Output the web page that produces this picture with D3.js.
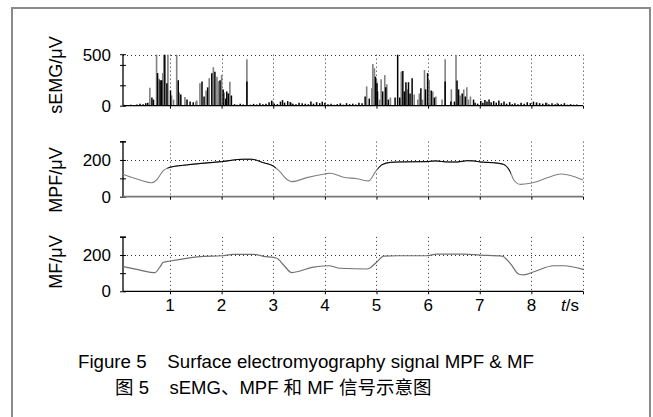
<!DOCTYPE html>
<html><head><meta charset="utf-8">
<script src="https://cdn.jsdelivr.net/npm/d3@7/dist/d3.min.js"></script>
<style>body{margin:0;background:#fff}svg{display:block}</style>
</head><body>
<svg id="c" width="653" height="417"></svg>
<script>
// ---------- data ----------
const timeTicks = [1,2,3,4,5,6,7,8];
const semgTicks = [0,500];
const freqTicks = [0,200];
// sEMG spikes [t (s), amplitude (µV)]
const semgGray = [[0.61,175],[0.74,500],[0.79,265],[0.86,320],[0.88,500],[0.96,500],[1.03,100],[1.07,60],[1.13,500],[1.18,130],[1.29,85],[1.50,40],
 [1.52,50],[1.58,220],[1.70,150],[1.76,270],[1.84,377],[1.91,285],[1.94,240],[2.00,300],[2.05,130],[2.16,235],[2.49,455],
 [3.00,40],[3.35,30],[4.30,25],
 [4.81,190],[4.91,170],[4.93,410],[4.96,367],[5.00,250],[5.06,60],[5.09,260],[5.16,300],[5.20,210],[5.27,80],[5.45,60],[5.48,335],[5.60,160],[5.73,110],[5.80,60],[5.83,120],[5.89,60],[5.93,350],[6.02,253],[6.09,140],[6.15,90],[6.27,60],[6.33,455],[6.45,160],[6.54,500],[6.62,100],[6.69,160],[6.75,180],[6.78,60],[6.82,90],
 [8.10,35],[8.30,30],[8.50,30]];
const semgBlack = [[0.12,8],[0.18,5],[0.24,10],[0.30,6],[0.36,12],[0.42,20],[0.48,15],[0.53,25],[0.57,30],
 [0.65,80],[0.68,60],[0.76,320],[0.81,250],[0.84,250],[0.90,500],[0.94,220],[1.01,150],[1.16,250],[1.21,110],[1.33,60],[1.39,40],[1.45,35],
 [1.62,237],[1.66,90],[1.73,180],[1.81,318],[1.87,333],[1.97,250],[2.03,160],[2.08,70],[2.10,140],[2.13,120],[2.19,100],
 [2.25,15],[2.30,10],[2.36,20],[2.42,12],[2.49,237],[2.56,10],[2.62,18],[2.68,12],[2.74,25],[2.80,15],[2.86,20],[2.92,35],[2.97,50],[3.02,20],[3.08,15],[3.14,40],[3.18,55],[3.22,30],[3.28,45],[3.33,35],[3.38,20],[3.44,15],[3.50,30],[3.56,25],[3.62,20],[3.68,15],[3.73,40],[3.78,20],[3.84,35],[3.90,25],[3.95,40],[4.00,30],[4.06,15],[4.12,20],[4.18,10],[4.24,15],[4.30,20],[4.36,10],[4.42,25],[4.48,15],[4.54,20],[4.60,12],[4.66,30],[4.72,25],
 [4.78,90],[4.86,70],[4.98,285],[5.01,220],[5.02,140],[5.12,140],[5.18,180],[5.23,60],[5.36,80],[5.41,500],[5.45,80],[5.51,340],[5.54,140],[5.57,230],[5.62,230],[5.65,120],[5.69,270],[5.86,170],[5.95,160],[5.99,320],[6.06,150],[6.12,80],[6.33,237],[6.44,40],[6.51,40],[6.56,247],[6.59,160],[6.66,120],[6.72,90],[6.88,60],[6.91,30],
 [6.96,20],[7.02,45],[7.06,30],[7.10,55],[7.14,40],[7.18,60],[7.22,35],[7.27,45],[7.32,30],[7.37,50],[7.42,25],[7.47,40],[7.52,20],[7.58,35],[7.63,15],[7.68,25],[7.74,15],[7.80,30],[7.86,20],[7.92,35],[7.98,25],[8.04,40],[8.10,30],[8.16,25],[8.22,20],[8.28,30],[8.34,15],[8.40,25],[8.46,15],[8.52,20],[8.58,15],[8.64,25],[8.70,10],[8.76,15],[8.82,10],[8.88,12],[8.94,8]];
// MPF curve [t, Hz]
const mpfT = [0.09,0.42,0.645,0.74,0.87,1.0,1.32,2.0,2.42,2.58,2.81,3.0,3.13,3.26,3.36,3.65,4.0,4.1,4.36,4.62,4.85,4.98,5.1,5.27,5.4,5.98,6.14,6.37,6.56,6.75,6.88,7.01,7.27,7.46,7.59,7.66,7.79,7.98,8.37,8.56,8.72,9.0];
const mpfV = [122,91,76,91,142,160,173,191,204,204,185,167,136,95,82,104,124,128,106,98,86,136,173,187,189,191,195,189,189,196,195,189,185,176,136,91,67,73,109,124,118,91];
// MF curve [t, Hz]
const mfT = [0.09,0.42,0.71,0.81,0.87,1.0,1.32,1.65,2.0,2.23,2.61,2.81,3.07,3.2,3.36,3.52,3.75,4.07,4.3,4.81,4.88,5.01,5.14,5.4,5.98,6.17,6.69,7.01,7.43,7.59,7.76,7.85,8.05,8.43,8.63,9.0];
const mfV = [136,117,103,136,160,167,182,193,196,204,204,193,182,145,103,112,132,141,127,123,130,163,194,196,196,205,205,200,194,154,94,91,108,141,141,121];
// active (contraction) intervals drawn in black
const activeSpans = [[0.95,3.05],[5.02,7.6]];

// ---------- drawing ----------
const svg = d3.select("#c");
const FONT = "'Liberation Sans', Arial, sans-serif";
svg.append("path").attr("d","M12,418V8H650V418").attr("fill","none").attr("stroke","#8a8a8a").attr("stroke-width",2);

const x = d3.scaleLinear().domain([0.09,9.0]).range([123,583]);
const gridTimes = timeTicks.concat([9.0]);

function panel(y, yTicks, gridVal){
  const g = svg.append("g");
  const y0 = y(0), yTop = y.range()[1];
  g.selectAll(".vg").data(gridTimes).join("line")
    .attr("x1",d=>Math.round(x(d))+0.5).attr("x2",d=>Math.round(x(d))+0.5)
    .attr("y1",yTop).attr("y2",y0)
    .attr("stroke","#333").attr("stroke-width",1).attr("stroke-dasharray","1,3");
  g.append("line").attr("x1",x.range()[0]).attr("x2",x.range()[1])
    .attr("y1",Math.round(y(gridVal))+0.5).attr("y2",Math.round(y(gridVal))+0.5)
    .attr("stroke","#333").attr("stroke-width",1).attr("stroke-dasharray","1,3");
  const ya = d3.axisLeft(y).tickValues(y.ticks(3).filter(v=>v<=y.domain()[1])).tickSize(3).tickFormat("");
  const yag = g.append("g").attr("transform",`translate(${x.range()[0]},0)`).call(ya);
  yag.select(".domain").remove();
  yag.selectAll("line").attr("stroke","#000").attr("x2",-3).attr("x1",3);
  g.append("line").attr("x1",x.range()[0]).attr("x2",x.range()[0]).attr("y1",yTop).attr("y2",y0).attr("stroke","#000").attr("stroke-width",1.3);
  g.append("line").attr("x1",x.range()[0]-3).attr("x2",x.range()[0]+3).attr("y1",yTop).attr("y2",yTop).attr("stroke","#000");
  g.selectAll(".yl").data(yTicks).join("text")
    .attr("x",111).attr("y",d=>y(d)).attr("dy","0.36em").attr("text-anchor","end")
    .attr("font-family",FONT).attr("font-size",17).text(d=>d);
  return g;
}
function xAxis(g, y, color, labels){
  const xa = d3.axisBottom(x).tickValues(gridTimes).tickSize(3).tickFormat("");
  const ag = g.append("g").attr("transform",`translate(0,${y(0)})`).call(xa);
  ag.select(".domain").attr("stroke",color).attr("stroke-width",color==="#000"?1.3:1.8).attr("d",`M${x.range()[0]},0H${x.range()[1]}`);
  ag.selectAll(".tick line").attr("stroke","#000");
  if(labels){
    g.selectAll(".xl").data(timeTicks).join("text")
      .attr("x",d=>x(d)).attr("y",y(0)+20).attr("text-anchor","middle")
      .attr("font-family",FONT).attr("font-size",17).text(d=>d);
    const t = g.append("text").attr("x",570).attr("y",y(0)+20).attr("text-anchor","middle").attr("font-family",FONT).attr("font-size",17);
    t.append("tspan").attr("font-style","italic").text("t");
    t.append("tspan").text("/s");
  }
}
function yTitle(txt, cx, cy){
  svg.append("text").attr("transform",`translate(${cx},${cy}) rotate(-90)`)
    .attr("text-anchor","middle").attr("font-family",FONT).attr("font-size",18).text(txt);
}

// panel 1 sEMG
const y1 = d3.scaleLinear().domain([0,500]).range([105.7,54.7]);
const g1 = panel(y1, semgTicks, 500);
g1.selectAll(".sg").data(semgGray).join("line")
  .attr("x1",d=>x(d[0])).attr("x2",d=>x(d[0])).attr("y1",y1(0)).attr("y2",d=>y1(Math.min(d[1],500)))
  .attr("stroke","#808080").attr("stroke-width",1.6);
g1.selectAll(".sb").data(semgBlack).join("line")
  .attr("x1",d=>x(d[0])).attr("x2",d=>x(d[0])).attr("y1",y1(0)).attr("y2",d=>y1(Math.min(d[1],500)))
  .attr("stroke","#000").attr("stroke-width",1.5);
xAxis(g1, y1, "#000", false);
yTitle("sEMG/μV", 62, 75);

// panel 2 MPF
const y2 = d3.scaleLinear().domain([0,300]).range([196.7,141.6]);
const g2 = panel(y2, freqTicks, 200);
xAxis(g2, y2, "#777", false);
const mpf = mpfT.map((t,i)=>[t,mpfV[i]]);
const mf = mfT.map((t,i)=>[t,mfV[i]]);
const line2 = d3.line().x(d=>x(d[0])).y(d=>y2(d[1])).curve(d3.curveMonotoneX);
const activeRects = activeSpans.map(s=>[x(s[0]),x(s[1])]);
const defs = svg.append("defs");
const cpA = defs.append("clipPath").attr("id","act");
cpA.selectAll("rect").data(activeRects).join("rect").attr("x",d=>d[0]).attr("width",d=>d[1]-d[0]).attr("y",0).attr("height",417);
g2.append("path").datum(mpf).attr("d",line2).attr("fill","none").attr("stroke","#808080").attr("stroke-width",1.1);
g2.append("path").datum(mpf).attr("d",line2).attr("fill","none").attr("stroke","#000").attr("stroke-width",1.0).attr("clip-path","url(#act)");
yTitle("MPF/μV", 62, 180);

// panel 3 MF
const y3 = d3.scaleLinear().domain([0,300]).range([291.3,236.9]);
const g3 = panel(y3, freqTicks, 200);
xAxis(g3, y3, "#000", true);
const line3 = d3.line().x(d=>x(d[0])).y(d=>y3(d[1])).curve(d3.curveMonotoneX);
g3.append("path").datum(mf).attr("d",line3).attr("fill","none").attr("stroke","#707070").attr("stroke-width",1.2);
yTitle("MF/μV", 62, 262);

// caption
svg.append("text").attr("x",78).attr("y",368).attr("font-family",FONT).attr("font-size",18.7)
  .style("white-space","pre").text("Figure 5    Surface electromyography signal MPF & MF");
svg.append("text").attr("x",115).attr("y",394).attr("font-family","'Liberation Sans','Noto Sans CJK SC',sans-serif").attr("font-size",18.5)
  .style("white-space","pre").text("图 5    sEMG、MPF 和 MF 信号示意图");
</script>
</body></html>
